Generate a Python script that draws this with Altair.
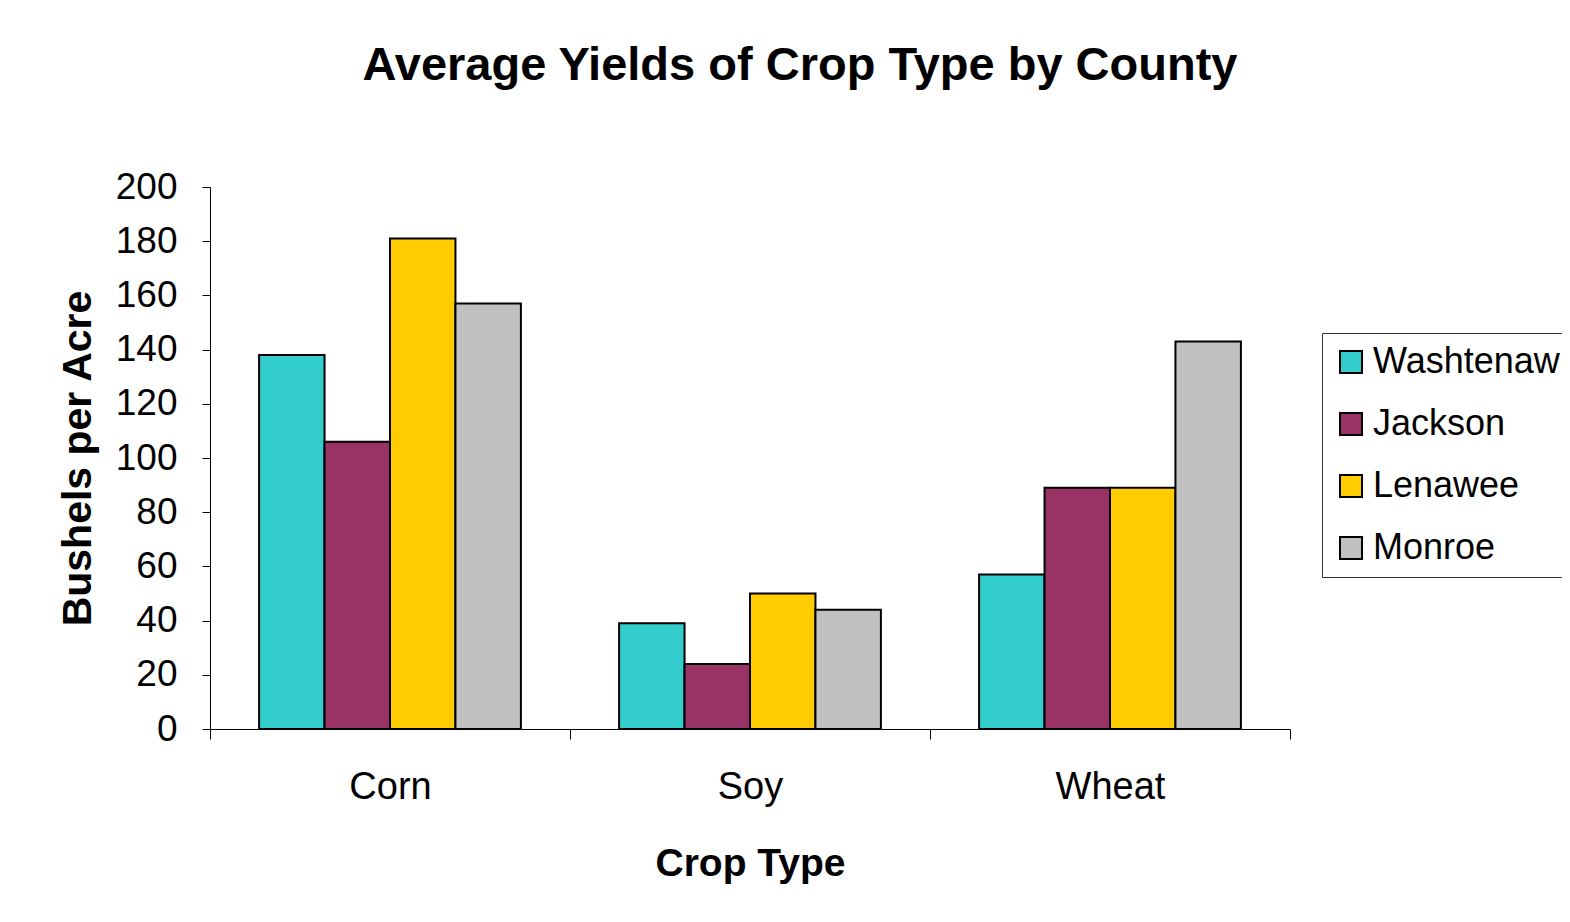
import altair as alt
import pandas as pd

crops = ["Corn", "Soy", "Wheat"]
counties = ["Washtenaw", "Jackson", "Lenawee", "Monroe"]
washtenaw = [138, 39, 57]
jackson = [106, 24, 89]
lenawee = [181, 50, 89]
monroe = [157, 44, 143]
colors = ["#33CCCC", "#993366", "#FFCC00", "#C0C0C0"]

rows = []
for county, vals in zip(counties, [washtenaw, jackson, lenawee, monroe]):
    for crop, v in zip(crops, vals):
        rows.append({"Crop": crop, "County": county, "Yield": v})
df = pd.DataFrame(rows)

FONT = "Liberation Sans"

chart = alt.Chart(df).mark_bar(stroke="black", strokeWidth=2).encode(
    x=alt.X("Crop:N", sort=crops,
            scale=alt.Scale(paddingInner=0, paddingOuter=0),
            axis=alt.Axis(title="Crop Type", labelAngle=0, tickBand="extent",
                          tickSize=10, labelPadding=29, labelFontSize=38,
                          titleFontSize=39, titleFontWeight="bold",
                          titleBaseline="alphabetic", titleY=146,
                          domainColor="black", tickColor="black",
                          labelColor="black", titleColor="black",
                          labelFont=FONT, titleFont=FONT)),
    xOffset=alt.XOffset("County:N", sort=counties,
                        scale=alt.Scale(paddingInner=0, paddingOuter=0.75)),
    y=alt.Y("Yield:Q", scale=alt.Scale(domain=[0, 200], nice=False),
            axis=alt.Axis(title="Bushels per Acre", values=list(range(0, 201, 20)),
                          grid=False, tickSize=8, labelPadding=25,
                          labelFontSize=37, titleFontSize=41,
                          titleFontWeight="bold", titleAngle=270,
                          titleBaseline="alphabetic", titleAlign="center",
                          titleX=-120, titleY=271,
                          domainColor="black", tickColor="black",
                          labelColor="black", titleColor="black",
                          labelFont=FONT, titleFont=FONT)),
    color=alt.Color("County:N", sort=counties,
                    scale=alt.Scale(domain=counties, range=colors),
                    legend=alt.Legend(title=None, orient="none",
                                      legendX=1112, legendY=146,
                                      symbolType="square", symbolSize=484,
                                      symbolStrokeColor="black",
                                      symbolStrokeWidth=2,
                                      labelFontSize=36, labelFont=FONT,
                                      labelColor="black", labelOffset=4,
                                      labelLimit=0,
                                      rowPadding=26, padding=11,
                                      strokeColor="#333333",
                                      fillColor="white")),
).properties(
    width=1080,
    height=542,
    title=alt.TitleParams("Average Yields of Crop Type by County",
                          fontSize=47, font=FONT, fontWeight="bold",
                          color="black", anchor="middle", dx=50,
                          baseline="alphabetic", offset=41),
    autosize=alt.AutoSizeParams(type="none"),
    padding={"left": 202, "top": 179, "right": 272, "bottom": 180},
    background="white",
).configure_view(stroke=None)

chart.save("out.html", embed_options={"renderer": "svg", "actions": False})
